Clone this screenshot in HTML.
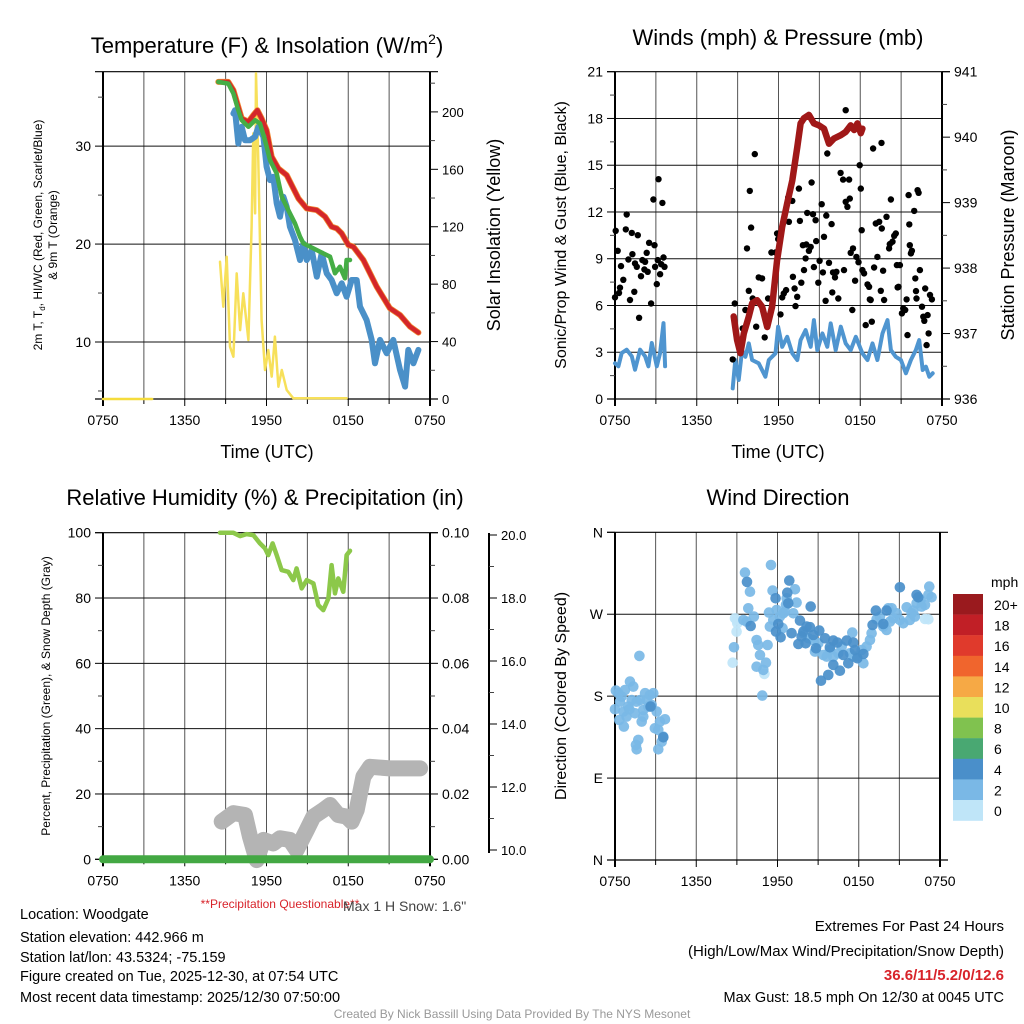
<!DOCTYPE html>
<html><head><meta charset="utf-8">
<style>
html,body{margin:0;padding:0;background:#fff;}
svg{display:block;font-family:"Liberation Sans",sans-serif;}
</style></head>
<body>
<svg id="chart" width="1024" height="1024" viewBox="0 0 1024 1024" xmlns="http://www.w3.org/2000/svg">
<rect width="1024" height="1024" fill="#fff"/>
<g id="layer"></g>
</svg>
<script>
// ---------- DATA ----------
const timeTickLabels = ["0750","1350","1950","0150","0750"];
const timeTickHours = [0,6,12,18,24];
// Panel 1: temperature (F) vs hours since 0750
const tempT = [8.46,9.20,9.57,9.93,10.18,10.67,11.03,11.33,11.64,12.01,12.38,12.87,13.48,13.85,14.34,14.95,15.69,16.30,16.78,17.15,17.52,18.01,18.37,19.11,20.09,21.06,21.80,22.53,23.15];
const tempV = [36.56,36.56,35.71,34.01,32.82,32.48,33.16,33.67,32.82,31.63,28.91,27.72,27.04,26.02,24.66,23.64,23.47,22.79,21.77,21.60,21.09,19.90,19.73,18.37,15.65,13.44,12.76,11.57,10.96];
const greenT = [8.46,9.20,9.57,9.93,10.18,10.67,11.16,11.52,11.89,12.26,12.75,13.12,13.60,14.09,14.46,14.71,15.44,16.17,16.66,17.03,17.39,17.76,17.88,18.13];
const greenV = [36.56,36.39,35.37,33.67,32.65,31.97,32.65,32.31,30.61,28.57,27.21,24.83,23.47,22.11,20.75,20.07,19.56,19.05,18.71,17.01,17.69,16.50,18.37,18.37];
const blueT = [9.57,9.69,9.93,10.18,10.42,10.79,11.16,11.40,11.77,12.01,12.26,12.50,12.75,12.99,13.24,13.48,13.72,14.09,14.46,14.71,14.95,15.32,15.69,16.05,16.42,16.78,17.15,17.52,17.88,18.25,18.62,18.86,19.35,19.72,19.96,20.33,20.82,21.31,21.80,22.17,22.41,22.78,23.15];
const blueV = [33.33,33.67,30.27,31.97,30.61,30.61,30.95,31.97,30.95,27.89,26.53,26.87,24.15,22.79,24.83,23.81,21.77,20.41,18.37,20.07,18.37,19.39,16.67,19.05,17.01,16.33,14.97,15.99,14.63,16.33,16.33,13.61,12.25,10.21,7.83,10.21,8.85,10.21,7.15,5.45,9.19,7.83,9.19];
const solarT1 = [0,3.6];
const solarV1 = [0,0];
const solarT = [8.59,8.83,9.08,9.32,9.57,9.81,10.06,10.30,10.67,10.91,11.03,11.16,11.23,11.40,11.64,11.89,12.13,12.38,12.62,12.87,13.12,13.48,13.97,17.88];
const solarV = [95.6,64.3,99.1,36.4,29.5,87.5,48.0,73.6,41.1,120.0,185.0,129.3,226.8,166.4,55.0,20.2,34.1,15.6,43.5,8.6,20.2,6.3,0.5,0.5];
// Panel 2: winds & pressure
const windT1 = [0,0.25,0.49,0.86,1.23,1.47,1.84,2.21,2.45,2.70,3.07,3.31,3.56,3.68];
const windV1 = [2.29,2.10,2.95,3.16,2.74,1.88,3.16,2.74,2.10,3.59,2.10,2.95,4.87,2.10];
const windT2 = [8.64,8.83,9.08,9.33,9.57,9.82,10.06,10.55,11.04,11.29,11.78,11.97,12.27,12.64,13.01,13.38,13.62,13.99,14.36,14.60,14.85,15.22,15.58,15.83,16.20,16.57,16.93,17.30,17.67,18.16,18.53,18.90,19.26,19.63,20.00,20.25,20.61,20.98,21.35,21.72,22.08,22.33,22.58,22.82,23.07,23.32];
const windV2 = [0.68,2.50,1.22,3.14,2.71,3.57,2.50,2.29,1.43,2.50,2.93,4.64,3.35,3.99,2.93,2.50,3.78,4.42,3.35,5.06,3.14,4.21,3.35,4.85,3.14,4.64,3.57,3.14,3.99,2.93,2.50,3.57,2.50,4.21,5.06,3.14,2.71,2.50,1.65,2.50,3.14,3.78,1.86,2.07,1.43,1.65];
const presT = [8.71,8.96,9.20,9.45,9.82,10.06,10.43,10.80,11.17,11.53,11.90,12.27,12.64,13.01,13.38,13.62,13.87,14.23,14.60,14.97,15.34,15.71,16.07,16.57,16.93,17.30,17.55,17.79,18.04,18.16];
const presV = [937.26,936.90,936.70,937.00,937.26,937.46,937.51,937.41,937.10,937.41,938.12,938.63,938.99,939.34,939.85,940.21,940.29,940.34,940.21,940.18,940.13,939.90,939.98,940.03,940.08,940.18,940.11,940.21,940.06,940.13];
const gustT = [0,0.05,0.20,0.44,0.37,0.29,0.61,0.86,0.79,0.98,1.10,1.23,1.28,1.42,1.47,1.60,1.67,1.77,1.91,2.01,2.16,2.21,2.33,2.40,2.50,2.65,2.82,2.90,2.94,3.07,3.14,3.19,3.31,3.39,3.48,3.56,3.63,
8.64,8.79,9.37,9.57,9.69,9.82,9.89,9.99,10.11,10.26,10.36,10.55,10.80,10.99,11.24,11.48,11.78,11.90,11.98,12.15,12.27,12.39,12.56,12.71,12.76,13.01,13.06,13.18,13.25,13.37,13.50,13.57,13.67,13.79,13.87,13.99,14.04,14.11,14.23,14.36,14.43,14.53,14.60,14.72,14.77,14.92,15.02,15.17,15.26,15.34,15.46,15.51,15.58,15.71,15.90,15.95,16.00,16.15,16.25,16.39,16.56,16.74,16.81,16.93,17.06,17.18,17.23,17.30,17.42,17.47,17.62,17.72,17.87,18.04,18.11,18.16,18.28,18.40,18.53,18.65,18.70,18.77,18.85,19.02,19.14,19.26,19.39,19.51,19.58,19.68,19.75,19.93,20.12,20.17,20.25,20.37,20.49,20.61,20.69,20.74,20.81,20.91,21.06,21.15,21.30,21.40,21.47,21.55,21.60,21.64,21.72,21.79,21.96,22.04,22.09,22.13,22.21,22.28,22.38,22.53,22.63,22.70,22.77,22.87,22.94,23.02,23.12,23.26,16.93,18.94,19.56,17.96];
const gustV = [6.52,10.79,9.51,8.53,7.14,6.80,7.65,11.84,10.88,8.95,6.35,10.66,9.29,6.88,8.70,8.48,10.51,5.21,7.88,8.91,8.31,8.80,9.38,8.16,10.02,6.13,12.80,9.87,8.48,7.37,8.91,14.10,8.01,8.65,12.58,9.08,8.48,
2.54,6.13,4.53,5.71,9.66,6.94,13.35,11.00,6.45,15.71,4.64,7.80,7.74,3.95,6.45,9.40,9.40,10.62,10.26,5.43,6.52,6.77,6.99,12.93,11.37,12.71,7.84,7.09,5.96,6.56,13.50,11.43,7.46,9.87,8.27,9.02,9.91,11.94,9.51,9.76,13.89,11.86,8.46,11.47,10.13,7.46,8.87,12.50,8.12,10.41,6.30,11.77,15.75,8.74,11.22,6.84,8.12,7.80,8.16,6.45,14.51,14.08,8.27,12.65,12.33,14.08,12.86,9.38,5.71,9.66,7.59,9.12,8.78,13.50,10.83,8.27,8.06,4.74,7.35,7.20,6.39,6.35,4.96,8.44,11.26,9.12,11.37,6.94,10.94,8.23,6.35,11.69,9.66,9.94,12.80,10.09,10.47,10.62,8.59,7.16,7.20,8.59,5.49,5.81,5.71,6.39,4.10,13.08,11.20,9.87,9.34,9.51,12.07,7.74,6.92,6.45,13.40,13.23,8.27,5.92,5.28,5.02,7.09,3.46,5.38,4.21,6.67,6.39,18.53,16.07,16.43,15.00];
// Panel 3: RH, precip, snow depth
const rhT = [8.59,9.57,10.06,10.54,11.03,11.52,11.89,12.13,12.45,12.75,13.11,13.60,13.97,14.21,14.58,14.95,15.44,15.80,16.17,16.54,16.78,17.03,17.27,17.64,17.88,18.13];
const rhV = [100,99.97,98.96,99.57,99.26,96.72,95.19,93.14,96.72,93.14,88.55,88.03,85.49,89.07,82.95,85.49,84.48,77.84,76.31,79.89,90.08,81.42,86.01,81.91,93.14,94.46];
const precipT = [0,24];
const precipV = [0,0];
const snowT = [8.71,9.57,10.42,10.79,11.28,11.77,12.50,12.99,13.72,14.21,14.95,15.44,16.17,16.66,17.27,17.88,18.25,18.62,19.11,19.60,21.06,23.27];
const snowV = [10.90,11.17,11.11,10.42,9.68,10.32,10.21,10.37,10.32,10.00,10.63,11.06,11.27,11.43,11.11,11.06,10.90,11.27,12.33,12.64,12.59,12.59];
// Panel 4: wind direction (deg) colored by speed (mph)
const dirT = [0.07,0.25,0,0.37,0.49,0.62,0.74,0.86,0.98,1.11,1.23,1.35,1.48,1.60,1.72,1.85,1.97,1.80,2.09,2.22,2.34,2.46,2.58,2.71,2.83,2.95,3.08,3.20,3.32,3.45,3.57,3.69,3.20,1.60,1.55,0.66,0.32,1.06,2.09,2.63,3.57,
8.69,8.86,8.98,9.03,11.03,23.14,22.89,8.98,
8.79,9.60,9.97,9.84,10.26,9.48,9.72,10.46,10.58,10.71,10.46,10.95,11.15,11.27,10.88,11.37,11.52,11.64,11.69,11.44,12.38,12.55,12.63,13.17,13.29,13.41,12.43,14.77,15.01,15.38,15.63,16.49,16.74,17.52,17.84,18.21,18.34,18.58,18.83,18.95,19.32,19.57,19.81,20.06,20.31,20.55,20.80,21.04,21.29,21.54,21.90,22.03,22.27,22.57,22.64,22.89,23.14,23.21,23.38,21.78,22.15,20.43,20.18,12.68,12.18,11.94,14.28,14.64,13.91,15.87,16.12,17.60,17.35,
9.75,10.02,11.86,12.06,12.23,11.89,12.87,12.72,12.80,13.66,13.04,13.54,13.91,14.15,14.40,13.78,14.08,14.45,14.64,15.09,14.84,15.21,15.51,15.75,15.87,16.12,16.12,16.42,16.61,16.86,17.11,17.23,17.60,17.72,17.89,18.34,19.02,19.27,20.06,19.81,21.04,22.40,22.27];
const dirV = [186.1,183.2,165.6,174.0,179.5,163.0,186.8,157.5,168.5,196.0,175.8,190.5,161.2,174.0,131.9,175.8,152.0,224.2,164.8,183.2,175.8,168.5,181.3,170.3,183.2,144.7,163.0,142.9,152.0,130.0,135.5,154.6,121.6,121.6,126.4,146.5,153.8,165.6,157.5,168.5,134.8,
216.8,265.5,250.9,260.0,204.4,264.4,264.8,263.7,
233.7,315.7,294.8,276.5,267.4,263.7,261.9,241.7,236.2,225.2,212.4,208.8,216.8,236.2,180.6,271.8,324.1,295.9,263.7,256.4,254.6,272.9,280.2,271.0,297.4,282.8,271.0,228.9,238.1,225.2,223.4,227.1,234.4,249.8,223.4,230.7,216.1,234.4,241.7,249.1,264.4,267.4,256.4,252.7,261.9,265.5,271.0,263.7,260.0,277.6,271.0,274.0,282.0,285.7,278.4,280.2,291.2,300.3,288.6,263.7,267.4,276.5,276.5,287.5,267.4,274.7,243.6,241.7,249.1,230.7,223.4,223.4,227.1,
305.5,257.1,287.5,259.3,244.7,250.9,306.9,293.7,282.0,263.0,249.1,237.3,250.9,256.4,255.7,245.4,238.1,278.4,247.2,252.0,232.6,197.0,243.6,203.3,233.7,241.0,214.3,238.8,208.0,225.2,241.0,216.1,238.8,230.7,221.6,226.3,258.2,274.0,274.0,259.3,299.6,288.6,291.2];
const dirSpd = [3,3,3,3,3,3,3,3,3,3,3,3,3,3,3,3,3,3,3,3,3,3,3,3,3,3,3,3,3,3,3,3,3,3,3,3,3,3,3,5,5,
1,1,1,1,1,1,1,1,
3,3,3,3,3,3,3,3,3,3,3,3,3,3,3,3,3,3,3,3,3,3,3,3,3,3,3,3,3,3,3,3,3,3,3,3,3,3,3,3,3,3,3,3,3,3,3,3,3,3,3,3,3,3,3,3,3,3,3,3,3,3,3,3,3,3,3,3,3,3,3,3,3,
5,5,5,5,5,5,5,5,5,5,5,5,5,5,5,5,5,5,5,5,5,5,5,5,5,5,5,5,5,5,5,5,5,5,5,5,5,5,5,5,5,5,5];
const speedBins = ["20+","18","16","14","12","10","8","6","4","2","0"];
const speedColors = ["#9a1a1e","#c11f26","#e03a2c","#f0652d","#f6a945","#e9df5b","#80c24f","#49a872","#4a8fca","#7ab8e6","#bfe5f8"];

// ---------- HELPERS ----------
const NS="http://www.w3.org/2000/svg";
const layer=document.getElementById('layer');
function mk(tag,attrs,parent){const e=document.createElementNS(NS,tag);for(const k in attrs)e.setAttribute(k,attrs[k]);(parent||layer).appendChild(e);return e;}
function lin(d0,d1,r0,r1){return v=>r0+(v-d0)/(d1-d0)*(r1-r0);}
function txt(x,y,s,opts,parent){const o=Object.assign({'font-size':14,'text-anchor':'middle',fill:'#000'},opts||{});o.x=x;o.y=y;const e=mk('text',o,parent);e.textContent=s;return e;}
function line(x1,y1,x2,y2,st,w,parent){return mk('line',{x1:x1,y1:y1,x2:x2,y2:y2,stroke:st||'#000','stroke-width':w||1},parent);}
function pathFrom(xs,ys,sx,sy){let d='';for(let i=0;i<xs.length;i++)d+=(i?'L':'M')+sx(xs[i]).toFixed(1)+','+sy(ys[i]).toFixed(1);return d;}

function frame(name,P,hLines,sy){
  const g=mk('g',{});
  
  
  const sx=lin(0,24,P.x0,P.x1);
  for(let h=3;h<24;h+=3){line(sx(h),P.y0,sx(h),P.y1,'#555',1,g);}
  hLines.forEach(v=>line(P.x0,sy(v),P.x1,sy(v),'#111',1,g));
  line(P.x0-8,P.y0,P.x1+8,P.y0,'#000',1.2,g);
  line(P.x0-8,P.y1,P.x1+8,P.y1,'#000',1.2,g);
  line(P.x0,P.y0,P.x0,P.y1+7,'#000',2,g);
  line(P.x1,P.y0,P.x1,P.y1+7,'#000',2,g);
  const xt=mk('g',{});
  
  
  timeTickHours.forEach((h,i)=>{
    line(sx(h),P.y1,sx(h),P.y1+7,'#000',1,xt);
    if(h+3<24) line(sx(h+3),P.y1,sx(h+3),P.y1+5,'#000',1,xt);
    txt(sx(h),P.y1+26,timeTickLabels[i],{'font-size':14},xt);
  });
  return sx;
}
function yTicks(name,P,x,vals,labels,minor,sy,side,fmtSize){
  const g=mk('g',{});
  
  
  vals.forEach((v,i)=>{
    const y=sy(v);
    if(side==='left'){line(x-8,y,x,y,'#000',1,g);txt(x-12,y+5,labels[i],{'font-size':fmtSize||14,'text-anchor':'end'},g);}
    else{line(x,y,x+8,y,'#000',1,g);txt(x+12,y+5,labels[i],{'font-size':fmtSize||14,'text-anchor':'start'},g);}
  });
  minor.forEach(v=>{const y=sy(v);if(side==='left')line(x-5,y,x,y,'#444',1,g);else line(x,y,x+5,y,'#444',1,g);});
}
function seriesPath(name,xs,ys,sx,sy,color,w,extra){
  const p=mk('path',Object.assign({d:pathFrom(xs,ys,sx,sy),fill:'none',stroke:color,'stroke-width':w,'stroke-linejoin':'round','stroke-linecap':'round'},extra||{}));
  
  
  return p;
}

// ---------- PANEL 1 ----------
(function(){
  const P={x0:103,x1:430,y0:71.7,y1:399};
  const sy=lin(4.18,37.6,P.y1,P.y0);
  const sy2=lin(0,228,P.y1,P.y0);
  const sx=frame('temp-panel',P,[10,20,30],sy);
  yTicks('temp-y-axis',P,P.x0,[10,20,30],['10','20','30'],[5,15,25,35],sy,'left');
  const rl=[0,40,80,120,160,200];
  yTicks('solar-y-axis',P,P.x1,rl,rl.map(String),[20,60,100,140,180,220],sy2,'right',13);
  seriesPath('solar-line-early',solarT1,solarV1,sx,sy2,'#f5dc3c',2.5);
  seriesPath('solar-line',solarT,solarV,sx,sy2,'#f7e05a',2.5);
  seriesPath('temp-9m-line',tempT,tempV,sx,sy,'#f08a30',6);
  seriesPath('temp-2m-line',tempT,tempV,sx,sy,'#d4262a',4.5);
  seriesPath('windchill-line',blueT,blueV,sx,sy,'#4a90c8',6);
  seriesPath('dewpoint-line',greenT,greenV,sx,sy,'#45ad45',4.5);
  const t=txt(267,53,'',{'font-size':22});
  
  t.innerHTML='Temperature (F) &amp; Insolation (W/m<tspan font-size="14" dy="-9">2</tspan><tspan dy="9">)</tspan>';
  const xl=txt(267,458,'Time (UTC)',{'font-size':18});
  
  const yl=txt(0,0,'',{'font-size':12,transform:'translate(42,235) rotate(-90)'});
  
  yl.innerHTML='2m T, T<tspan font-size="8" dy="3">d</tspan><tspan dy="-3">, HI/WC (Red, Green, Scarlet/Blue)</tspan>';
  const yl2=txt(0,0,'& 9m T (Orange)',{'font-size':12,transform:'translate(57,235) rotate(-90)'});
  
  const yr=txt(0,0,'Solar Insolation (Yellow)',{'font-size':18,transform:'translate(500,235) rotate(-90)'});
  
})();

// ---------- PANEL 2 ----------
(function(){
  const P={x0:615,x1:942,y0:71.7,y1:399};
  const sy=lin(0,21,P.y1,P.y0);
  const sy2=lin(936,941,P.y1,P.y0);
  const sx=frame('wind-panel',P,[3,6,9,12,15,18],sy);
  const lv=[0,3,6,9,12,15,18,21];
  yTicks('wind-y-axis',P,P.x0,lv,lv.map(String),[1.5,4.5,7.5,10.5,13.5,16.5,19.5],sy,'left');
  const rv=[936,937,938,939,940,941];
  yTicks('pressure-y-axis',P,P.x1,rv,rv.map(String),[936.5,937.5,938.5,939.5,940.5],sy2,'right');
  seriesPath('sonic-wind-line-1',windT1,windV1,sx,sy,'#4f95d0',4);
  seriesPath('sonic-wind-line-2',windT2,windV2,sx,sy,'#4f95d0',4);
  const g=mk('g',{});
  
  for(let i=0;i<gustT.length;i++){
    const c=mk('circle',{cx:sx(gustT[i]).toFixed(1),cy:sy(gustV[i]).toFixed(1),r:3.2,fill:'#000'},g);
    
    
  }
  seriesPath('pressure-line',presT,presV,sx,sy2,'#a01818',6.5);
  const t=txt(778,45,'Winds (mph) & Pressure (mb)',{'font-size':22});
  
  const xl=txt(778,458,'Time (UTC)',{'font-size':18});
  
  const yl=txt(0,0,'Sonic/Prop Wind & Gust (Blue, Black)',{'font-size':16,transform:'translate(566,235) rotate(-90)'});
  
  const yr=txt(0,0,'Station Pressure (Maroon)',{'font-size':18,transform:'translate(1014,235) rotate(-90)'});
  
})();

// ---------- PANEL 3 ----------
(function(){
  const P={x0:103,x1:430,y0:532.7,y1:859.3};
  const sy=lin(0,100,P.y1,P.y0);
  const syP=lin(0,0.1,P.y1,P.y0);
  const syS=lin(10,20,850,535);
  const sx=frame('rh-panel',P,[20,40,60,80],sy);
  const lv=[0,20,40,60,80,100];
  yTicks('rh-y-axis',P,P.x0,lv,lv.map(String),[10,30,50,70,90],sy,'left');
  const pv=[0,0.02,0.04,0.06,0.08,0.10];
  yTicks('precip-y-axis',P,P.x1,pv,pv.map(v=>v.toFixed(2)),[0.01,0.03,0.05,0.07,0.09],syP,'right');
  const sg=mk('g',{});
  
  line(489,533,489,853,'#000',2,sg);
  const sv=[10,12,14,16,18,20];
  sv.forEach(v=>{line(489,syS(v),497,syS(v),'#000',1,sg);txt(501,syS(v)+5,v.toFixed(1),{'font-size':13,'text-anchor':'start'},sg);});
  [11,13,15,17,19].forEach(v=>line(489,syS(v),494,syS(v),'#444',1,sg));
  seriesPath('snow-depth-line',snowT,snowV,sx,syS,'#b4b4b4',16);
  seriesPath('rh-line',rhT,rhV,sx,sy,'#8cc84a',4.5);
  seriesPath('precip-line',precipT,precipV,sx,syP,'#43a843',8);
  const t=txt(265,505,'Relative Humidity (%) & Precipitation (in)',{'font-size':22});
  
  const yl=txt(0,0,'Percent, Precipitation (Green), & Snow Depth (Gray)',{'font-size':12,transform:'translate(50,696) rotate(-90)'});
  
  const pq=txt(280,908,'**Precipitation Questionable**',{'font-size':12,fill:'#d8232a'});
  
  const ms=txt(343,911,'Max 1 H Snow: 1.6"',{'font-size':14,fill:'#444','text-anchor':'start'});
  
})();

// ---------- PANEL 4 ----------
(function(){
  const P={x0:615,x1:940,y0:532.3,y1:860};
  const sy=lin(0,360,P.y1,P.y0);
  const sx=frame('direction-panel',P,[90,180,270],sy);
  yTicks('direction-y-axis',P,P.x0,[0,90,180,270,360],['N','E','S','W','N'],[],sy,'left');
  const g=mk('g',{});
  
  for(let i=0;i<dirT.length;i++){
    const bin=Math.min(10,Math.max(0,Math.floor(dirSpd[i]/2)));
    const col=speedColors[10-bin];
    const c=mk('circle',{cx:sx(dirT[i]).toFixed(1),cy:sy(dirV[i]).toFixed(1),r:5.3,fill:col,'fill-opacity':0.92},g);
    
    
  }
  const t=txt(778,505,'Wind Direction',{'font-size':22});
  
  const yl=txt(0,0,'Direction (Colored By Speed)',{'font-size':16,transform:'translate(566,696) rotate(-90)'});
  
  const lg=mk('g',{});
  
  txt(991,587,'mph',{'font-size':14,'text-anchor':'start'},lg);
  speedBins.forEach((b,i)=>{
    const r=mk('rect',{x:953,y:(594+i*20.6).toFixed(1),width:30,height:20.8,fill:speedColors[i]},lg);
    
    
    txt(994,594+i*20.6+16,b,{'font-size':14,'text-anchor':'start'},lg);
  });
})();

// ---------- FOOTER ----------
(function(){
  const g=mk('g',{});
  
  const lines=['Location: Woodgate','Station elevation: 442.966 m','Station lat/lon: 43.5324; -75.159','Figure created on Tue, 2025-12-30, at 07:54 UTC','Most recent data timestamp: 2025/12/30 07:50:00'];
  const ys=[919,942,962,981,1002];
  lines.forEach((s,i)=>txt(20,ys[i],s,{'font-size':14.5,'text-anchor':'start'},g));
  const e=mk('g',{});
  
  txt(1004,931,'Extremes For Past 24 Hours',{'font-size':15,'text-anchor':'end'},e);
  txt(1004,956,'(High/Low/Max Wind/Precipitation/Snow Depth)',{'font-size':15,'text-anchor':'end'},e);
  txt(1004,980,'36.6/11/5.2/0/12.6',{'font-size':15,'text-anchor':'end',fill:'#d8232a','font-weight':'bold'},e);
  txt(1004,1002,'Max Gust: 18.5 mph On 12/30 at 0045 UTC',{'font-size':14.5,'text-anchor':'end'},e);
  const c=txt(512,1018,'Created By Nick Bassill Using Data Provided By The NYS Mesonet',{'font-size':12,fill:'#999'});
  
})();
</script>
</body></html>
